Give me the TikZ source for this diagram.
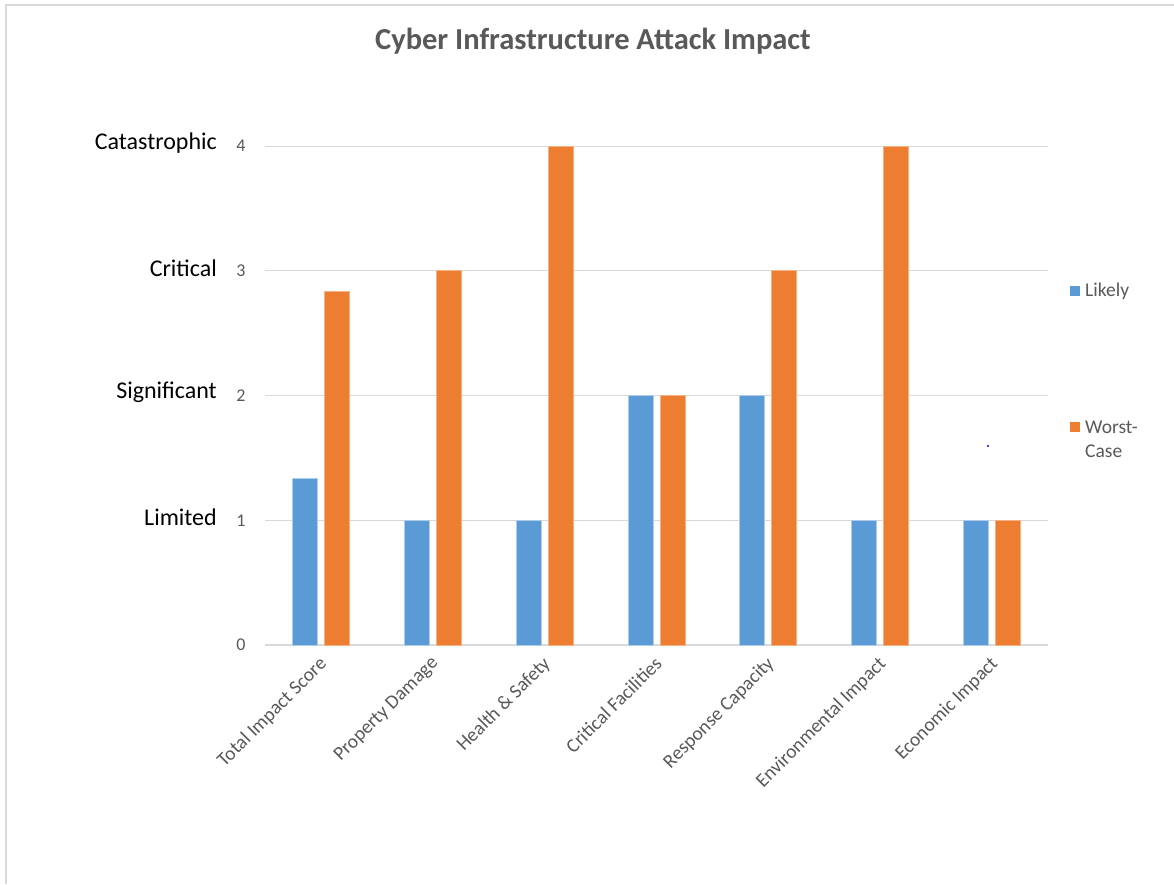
\documentclass[tikz,border=0pt]{standalone}
\usepackage{fontspec}
\setmainfont{Carlito}
\definecolor{likelyblue}{HTML}{5B9BD5}
\definecolor{worstorange}{HTML}{ED7D31}
\definecolor{gridgray}{HTML}{D9D9D9}
\definecolor{textgray}{HTML}{595959}
\tikzset{
  frameline/.style={draw=gridgray, line width=2pt},
  gridline/.style={draw=gridgray, line width=1pt},
  axisline/.style={draw=gridgray, line width=1.5pt},
  likelybar/.style={fill=likelyblue, draw=likelyblue!50!white, line width=0.8pt},
  worstbar/.style={fill=worstorange, draw=worstorange!60!white, line width=0.8pt},
  ticklabel/.style={text=textgray, font=\fontsize{18}{20}\selectfont, inner sep=0pt},
  levellabel/.style={text=black, font=\fontsize{24}{28}\selectfont, anchor=east, inner sep=0pt},
  catlabel/.style={text=textgray, font=\fontsize{19.5}{22}\selectfont, rotate=45, anchor=north east, inner sep=0pt},
  legendtext/.style={text=textgray, font=\fontsize{19.5}{24}\selectfont, anchor=west, inner sep=0pt, align=left},
  titletext/.style={text=textgray, font=\bfseries\fontsize{30.5}{36}\selectfont, inner sep=0pt}
}
\begin{document}
\begin{tikzpicture}[x=1pt,y=-1pt]
\useasboundingbox (0,0) rectangle (1174,884);
\fill[white] (0,0) rectangle (1174,884);
% frame
\coordinate (fr1) at (6,884);
\coordinate (fr2) at (6,5);
\coordinate (fr3) at (1174,5);
\draw[frameline] (fr1) -- (fr2) -- (fr3);
% title
\node[titletext] (title) at (593,41) {Cyber Infrastructure Attack Impact};
% grid and value axis: y(v) = 645 - 124.75 v
\foreach \v/\lab in {1/Limited,2/Significant,3/Critical,4/Catastrophic}{
  \coordinate (gl\v) at (265,{645-124.75*\v});
  \coordinate (gr\v) at (1048,{645-124.75*\v});
  \draw[gridline] (gl\v) -- (gr\v);
  \node[levellabel] (lev\v) at (217,{642-124.75*\v}) {\lab};
}
\foreach \v in {0,...,4}{
  \node[ticklabel] (tick\v) at (241,{645-124.75*\v}) {\v};
}
\coordinate (ax0) at (265,645);
\coordinate (ax1) at (1048,645);
\draw[axisline] (ax0) -- (ax1);
% bars
\foreach \i/\lk/\wc/\cat in {
  0/1.3333/2.8333/Total Impact Score,
  1/1/3/Property Damage,
  2/1/4/Health \& Safety,
  3/2/2/Critical Facilities,
  4/2/3/Response Capacity,
  5/1/4/Environmental Impact,
  6/1/1/Economic Impact}{
  \pgfmathsetmacro{\c}{265+111.86*(\i+0.5)}
  \draw[likelybar] ({\c-28.5},645) rectangle ({\c-3.5},{645-124.75*\lk});
  \draw[worstbar] ({\c+3.5},645) rectangle ({\c+28.5},{645-124.75*\wc});
  \node[catlabel] (cat\i) at ({\c-3},655) {\cat};
}
% legend
\fill[likelyblue] (1070,286) rectangle (1080,296);
\node[legendtext] (leg1) at (1085,291) {Likely};
\fill[worstorange] (1070,422) rectangle (1080,432);
\node[legendtext] (leg2) at (1085,439) {Worst-\\Case};
% stray mark
\fill[blue] (988,446) circle (1.2pt);
\end{tikzpicture}
\end{document}
